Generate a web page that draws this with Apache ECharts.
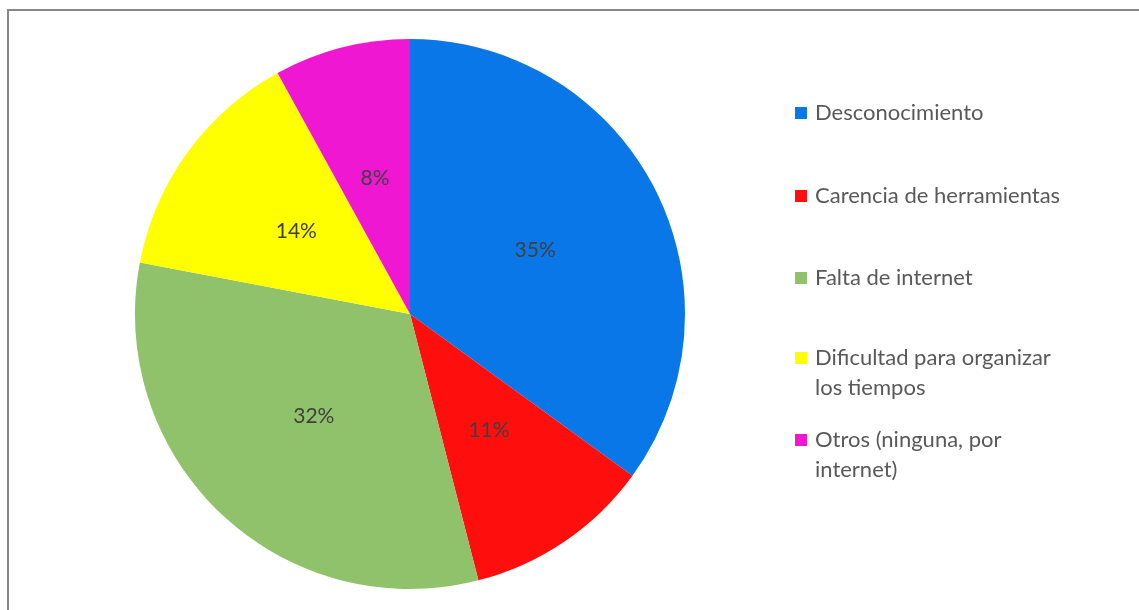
<!DOCTYPE html>
<html>
<head>
<meta charset="utf-8">
<script src="https://cdn.jsdelivr.net/npm/echarts@6/dist/echarts.min.js"></script>
<style>
  html, body { margin: 0; padding: 0; background: #fff; }
  #chart { width: 1139px; height: 610px; }
</style>
</head>
<body>
<div id="chart"></div>
<script>
// data (percent of answers)
const categories = [
  "Desconocimiento",
  "Carencia de herramientas",
  "Falta de internet",
  "Dificultad para organizar los tiempos",
  "Otros (ninguna, por internet)"
];
const values = [35, 11, 32, 14, 8];
const legendLabels = [
  "Desconocimiento",
  "Carencia de herramientas",
  "Falta de internet",
  "Dificultad para organizar\nlos tiempos",
  "Otros (ninguna, por\ninternet)"
];
const colors = ["#0a77e9", "#ff0e0e", "#8fc26a", "#ffff00", "#ef17d1"];

const chart = echarts.init(document.getElementById("chart"));

const fontFamily = "Lato, 'Open Sans', sans-serif";
const legendTops = [98, 181, 263, 343, 425];

// one legend per item so the spacing matches the original
const legends = categories.map((name, i) => {
  const twoLines = legendLabels[i].indexOf("\n") >= 0;
  return {
    data: [name],
    left: 795,
    top: legendTops[i],
    padding: 0,
    orient: "vertical",
    // keep the square on the first text line for wrapped items
    icon: twoLines
      ? "path://M0 0H10V10H0Z M0 35H0.01V35.01H0Z"
      : "rect",
    itemWidth: 12,
    itemHeight: twoLines ? 42 : 12,
    selectedMode: false,
    formatter: () => legendLabels[i],
    textStyle: {
      fontFamily,
      fontSize: 22,
      color: "#595959",
      lineHeight: 30,
      padding: [0, 0, 0, 3]
    }
  };
});

const option = {
  animation: false,
  color: colors,
  graphic: [
    {
      type: "rect",
      shape: { x: 8, y: 10, width: 1200, height: 700 },
      style: { fill: null, stroke: "#878787", lineWidth: 2 },
      silent: true
    }
  ],
  legend: legends,
  series: [
    {
      type: "pie",
      center: [410, 314],
      radius: 275,
      startAngle: 90,
      clockwise: true,
      data: categories.map((name, i) => ({ name, value: values[i] })),
      label: {
        position: "inside",
        formatter: "{d}%",
        fontFamily,
        fontSize: 21,
        color: "#404040",
        padding: [6, 0, 0, 0]
      },
      labelLine: { show: false },
      emphasis: { disabled: true }
    }
  ]
};

option && chart.setOption(option);
</script>
</body>
</html>
